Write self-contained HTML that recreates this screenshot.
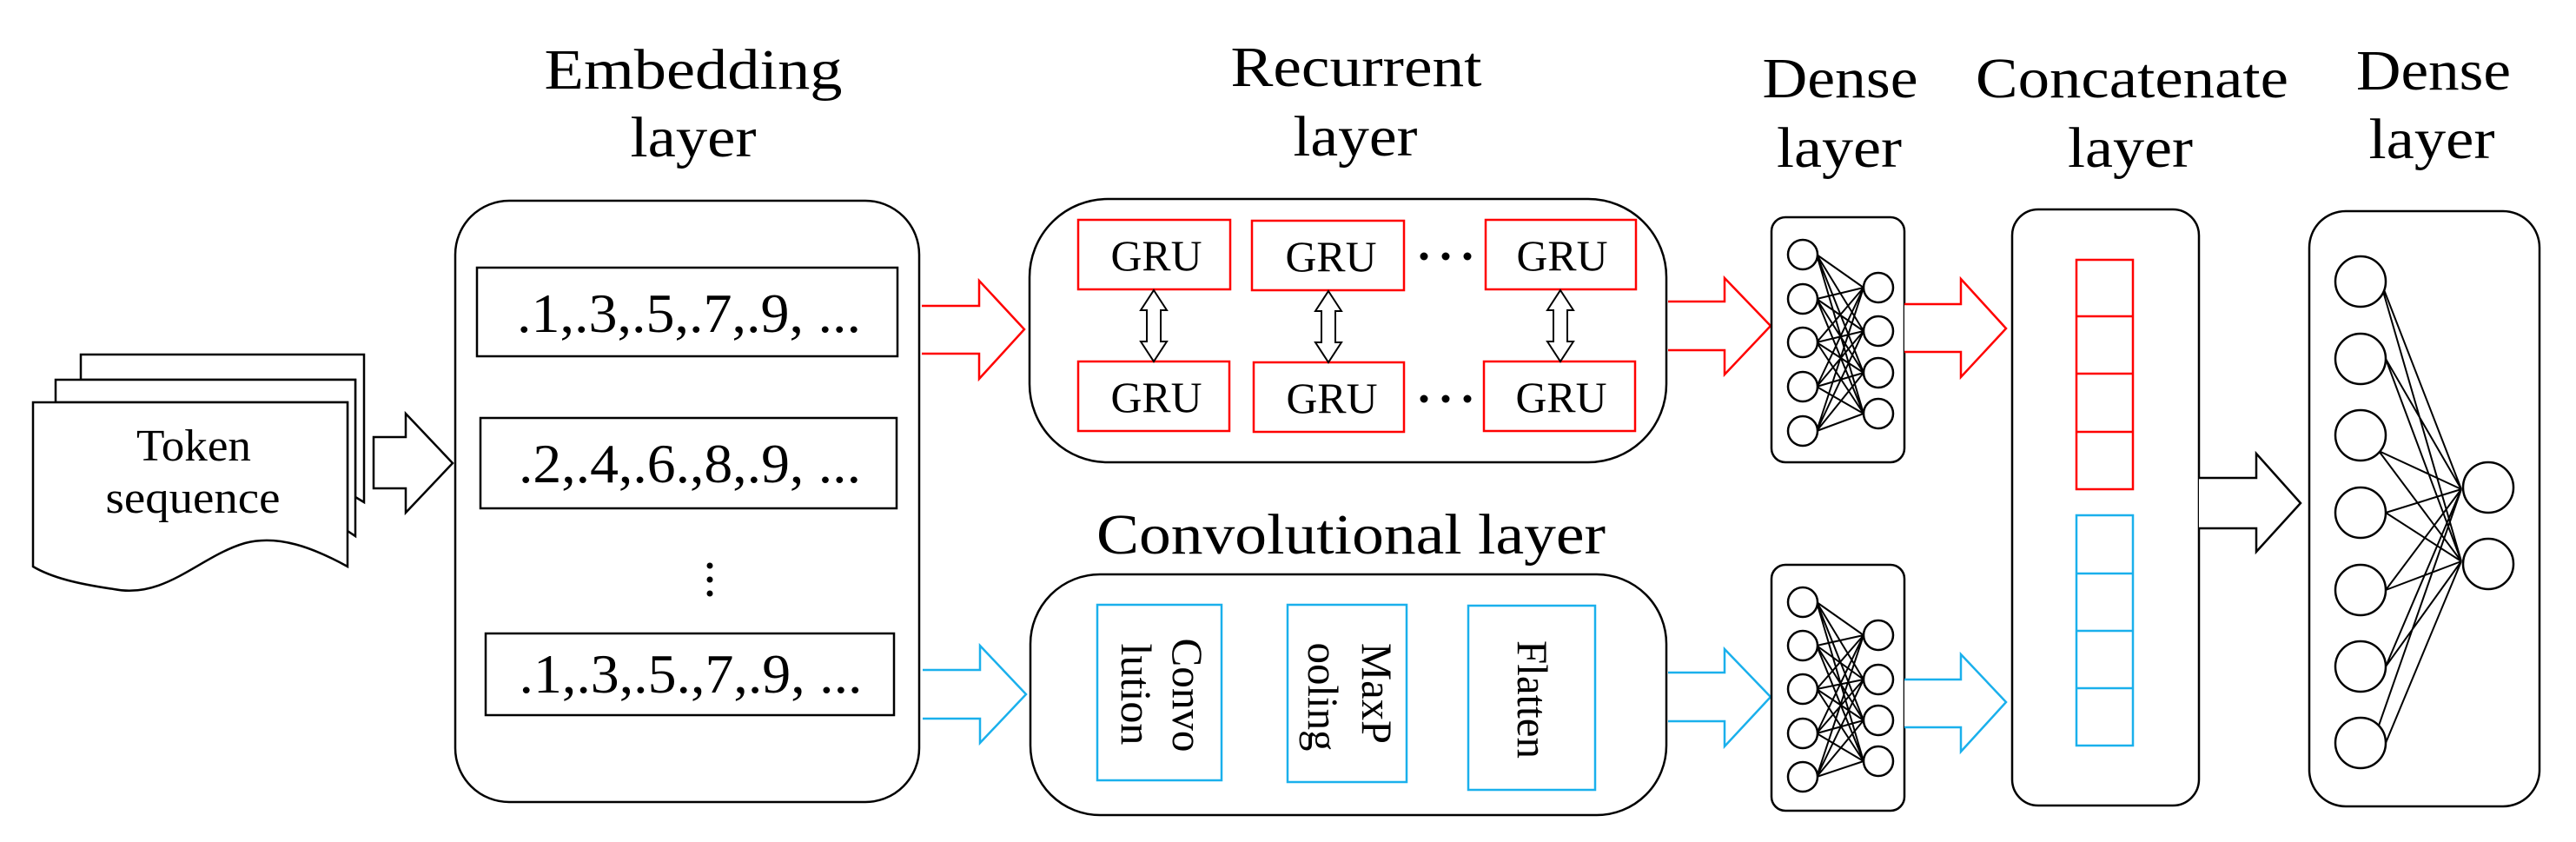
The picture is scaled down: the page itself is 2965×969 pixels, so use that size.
<!DOCTYPE html>
<html><head><meta charset="utf-8"><style>
html,body{margin:0;padding:0;background:#fff;}
svg{display:block;}
svg text{font-family:"Liberation Serif","Times New Roman","DejaVu Serif",serif;fill:#000;}
</style></head><body>
<svg width="2965" height="969" viewBox="0 0 2965 969" xmlns="http://www.w3.org/2000/svg" font-family="'Liberation Serif', 'Times New Roman', 'DejaVu Serif', serif">
<g fill="#fff" stroke="#000" stroke-width="2.5">
<path d="M93,408 H419 V578 L409,572 V437 H93 Z"/>
<path d="M64,437 H409 V617 L400,611 V463 H64 Z"/>
<path d="M38,463 H400 V652 C360,630 320,615 282,625 C230,640 190,690 131,678 C90,672 60,665 38,652 Z"/>
</g>
<g font-family="'Liberation Serif', 'Times New Roman', 'DejaVu Serif', serif">
<text x="223" y="530" font-size="52" text-anchor="middle" textLength="132" lengthAdjust="spacingAndGlyphs">Token</text>
<text x="222" y="590" font-size="52" text-anchor="middle" textLength="201" lengthAdjust="spacingAndGlyphs">sequence</text>
</g>
<path d="M430,503 H467 V476 L521,533 L467,590 V562 H430 Z" fill="#fff" stroke="#000" stroke-width="2.5"/>

<g font-size="66" text-anchor="middle" font-family="'Liberation Serif', 'Times New Roman', 'DejaVu Serif', serif">
<text x="798" y="102" textLength="343" lengthAdjust="spacingAndGlyphs">Embedding</text>
<text x="798" y="180" textLength="145" lengthAdjust="spacingAndGlyphs">layer</text>
<text x="1561" y="99" textLength="289" lengthAdjust="spacingAndGlyphs">Recurrent</text>
<text x="1560" y="179" textLength="143" lengthAdjust="spacingAndGlyphs">layer</text>
<text x="2118" y="112" textLength="179" lengthAdjust="spacingAndGlyphs">Dense</text>
<text x="2117" y="192" textLength="144" lengthAdjust="spacingAndGlyphs">layer</text>
<text x="2454" y="112" textLength="360" lengthAdjust="spacingAndGlyphs">Concatenate</text>
<text x="2452" y="192" textLength="144" lengthAdjust="spacingAndGlyphs">layer</text>
<text x="2801" y="103" textLength="178" lengthAdjust="spacingAndGlyphs">Dense</text>
<text x="2799" y="182" textLength="145" lengthAdjust="spacingAndGlyphs">layer</text>
<text x="1555" y="637" textLength="586" lengthAdjust="spacingAndGlyphs">Convolutional layer</text>
</g>

<rect x="524" y="231" width="534" height="692" rx="62" fill="#fff" stroke="#000" stroke-width="2.5"/>
<g fill="none" stroke="#000" stroke-width="2.5">
<rect x="549" y="308" width="484" height="102"/>
<rect x="553" y="481" width="479" height="104"/>
<rect x="559" y="729" width="470" height="94"/>
</g>
<g font-size="64" text-anchor="middle" font-family="'Liberation Serif', 'Times New Roman', 'DejaVu Serif', serif">
<text x="793" y="382" textLength="396" lengthAdjust="spacingAndGlyphs">.1,.3,.5,.7,.9, ...</text>
<text x="794" y="555" textLength="394" lengthAdjust="spacingAndGlyphs">.2,.4,.6.,8,.9, ...</text>
<text x="795" y="797" textLength="395" lengthAdjust="spacingAndGlyphs">.1,.3,.5.,7,.9, ...</text>
</g>
<g fill="#000"><circle cx="817" cy="651" r="3.5"/><circle cx="817" cy="667" r="3.5"/><circle cx="817" cy="683" r="3.5"/></g>

<path d="M1061,352 H1127 V323 L1179,379 L1127,436 V407 H1061" fill="#fff" stroke="#f00" stroke-width="2.5"/>
<path d="M1062,771 H1128 V743 L1181,799 L1128,855 V827 H1062" fill="#fff" stroke="#1ab0ec" stroke-width="2.5"/>

<rect x="1185" y="229" width="733" height="303" rx="90" fill="#fff" stroke="#000" stroke-width="2.5"/>
<g fill="none" stroke="#f00" stroke-width="2.5">
<rect x="1241" y="253" width="175" height="80"/>
<rect x="1441" y="254" width="175" height="80"/>
<rect x="1710" y="253" width="173" height="80"/>
<rect x="1241" y="416" width="174" height="80"/>
<rect x="1443" y="417" width="173" height="80"/>
<rect x="1708" y="416" width="174" height="80"/>
</g>
<g font-size="50" text-anchor="middle" font-family="'Liberation Serif', 'Times New Roman', 'DejaVu Serif', serif">
<text x="1331" y="311" textLength="105" lengthAdjust="spacingAndGlyphs">GRU</text>
<text x="1532" y="312" textLength="105" lengthAdjust="spacingAndGlyphs">GRU</text>
<text x="1798" y="311" textLength="105" lengthAdjust="spacingAndGlyphs">GRU</text>
<text x="1331" y="474" textLength="105" lengthAdjust="spacingAndGlyphs">GRU</text>
<text x="1533" y="475" textLength="105" lengthAdjust="spacingAndGlyphs">GRU</text>
<text x="1797" y="474" textLength="105" lengthAdjust="spacingAndGlyphs">GRU</text>
</g>
<g fill="#000">
<circle cx="1639" cy="295" r="4.5"/><circle cx="1664" cy="295" r="4.5"/><circle cx="1689" cy="295" r="4.5"/>
<circle cx="1639" cy="459" r="4.5"/><circle cx="1664" cy="459" r="4.5"/><circle cx="1689" cy="459" r="4.5"/>
</g>
<g fill="#fff" stroke="#000" stroke-width="2">
<path d="M1328,334 L1343,357 H1336 V393 H1343 L1328,416 L1313,393 H1320 V357 H1313 Z"/>
<path d="M1529,335 L1544,358 H1537 V394 H1544 L1529,417 L1514,394 H1521 V358 H1514 Z"/>
<path d="M1796,334 L1811,357 H1804 V393 H1811 L1796,416 L1781,393 H1788 V357 H1781 Z"/>
</g>

<rect x="1186" y="661" width="732" height="277" rx="80" fill="#fff" stroke="#000" stroke-width="2.5"/>
<g fill="none" stroke="#1ab0ec" stroke-width="2.5">
<rect x="1263" y="696" width="143" height="202"/>
<rect x="1482" y="696" width="137" height="204"/>
<rect x="1690" y="697" width="146" height="212"/>
</g>
<g font-size="50" text-anchor="middle" font-family="'Liberation Serif', 'Times New Roman', 'DejaVu Serif', serif">
<text transform="translate(1350,800) rotate(90)" textLength="131" lengthAdjust="spacingAndGlyphs">Convo</text>
<text transform="translate(1291,799) rotate(90)" textLength="117" lengthAdjust="spacingAndGlyphs">lution</text>
<text transform="translate(1568,798) rotate(90)" textLength="116" lengthAdjust="spacingAndGlyphs">MaxP</text>
<text transform="translate(1506,802) rotate(90)" textLength="125" lengthAdjust="spacingAndGlyphs">ooling</text>
<text transform="translate(1747,805) rotate(90)" textLength="136" lengthAdjust="spacingAndGlyphs">Flatten</text>
</g>

<path d="M1920,347 H1985 V320 L2038,375 L1985,431 V403 H1920" fill="#fff" stroke="#f00" stroke-width="2.5"/>
<path d="M1920,774 H1985 V747 L2038,802 L1985,859 V830 H1920" fill="#fff" stroke="#1ab0ec" stroke-width="2.5"/>

<rect x="2039" y="250" width="153" height="282" rx="16" fill="#fff" stroke="#000" stroke-width="2.5"/>
<g stroke="#000" stroke-width="2">
<path d="M2091,293L2145,331M2091,293L2145,381M2091,293L2145,429M2091,293L2145,476
M2091,344L2145,331M2091,344L2145,381M2091,344L2145,429M2091,344L2145,476
M2091,394L2145,331M2091,394L2145,381M2091,394L2145,429M2091,394L2145,476
M2091,445L2145,331M2091,445L2145,381M2091,445L2145,429M2091,445L2145,476
M2091,496L2145,331M2091,496L2145,381M2091,496L2145,429M2091,496L2145,476"/>
</g>
<g fill="#fff" stroke="#000" stroke-width="2.5">
<circle cx="2075" cy="293" r="17"/><circle cx="2075" cy="344" r="17"/><circle cx="2075" cy="394" r="17"/><circle cx="2075" cy="445" r="17"/><circle cx="2075" cy="496" r="17"/>
<circle cx="2162" cy="331" r="17"/><circle cx="2162" cy="381" r="17"/><circle cx="2162" cy="429" r="17"/><circle cx="2162" cy="476" r="17"/>
</g>

<rect x="2039" y="650" width="153" height="283" rx="16" fill="#fff" stroke="#000" stroke-width="2.5"/>
<g stroke="#000" stroke-width="2">
<path d="M2091,693L2145,731M2091,693L2145,782M2091,693L2145,829M2091,693L2145,876
M2091,743L2145,731M2091,743L2145,782M2091,743L2145,829M2091,743L2145,876
M2091,793L2145,731M2091,793L2145,782M2091,793L2145,829M2091,793L2145,876
M2091,844L2145,731M2091,844L2145,782M2091,844L2145,829M2091,844L2145,876
M2091,894L2145,731M2091,894L2145,782M2091,894L2145,829M2091,894L2145,876"/>
</g>
<g fill="#fff" stroke="#000" stroke-width="2.5">
<circle cx="2075" cy="693" r="17"/><circle cx="2075" cy="743" r="17"/><circle cx="2075" cy="793" r="17"/><circle cx="2075" cy="844" r="17"/><circle cx="2075" cy="894" r="17"/>
<circle cx="2162" cy="731" r="17"/><circle cx="2162" cy="782" r="17"/><circle cx="2162" cy="829" r="17"/><circle cx="2162" cy="876" r="17"/>
</g>

<path d="M2192,350 H2257 V321 L2309,378 L2257,434 V405 H2192" fill="#fff" stroke="#f00" stroke-width="2.5"/>
<path d="M2192,782 H2257 V753 L2309,808 L2257,865 V837 H2192" fill="#fff" stroke="#1ab0ec" stroke-width="2.5"/>

<rect x="2316" y="241" width="215" height="686" rx="30" fill="#fff" stroke="#000" stroke-width="2.5"/>
<g fill="none" stroke="#f00" stroke-width="2.5">
<rect x="2390" y="299" width="65" height="264"/>
<path d="M2390,364H2455M2390,430H2455M2390,497H2455"/>
</g>
<g fill="none" stroke="#1ab0ec" stroke-width="2.5">
<rect x="2390" y="593" width="65" height="265"/>
<path d="M2390,660H2455M2390,726H2455M2390,792H2455"/>
</g>

<path d="M2531,550 H2597 V522 L2648,579 L2597,635 V608 H2531" fill="#fff" stroke="#000" stroke-width="2.5"/>

<rect x="2658" y="243" width="265" height="685" rx="42" fill="#fff" stroke="#000" stroke-width="2.5"/>
<g stroke="#000" stroke-width="2">
<path d="M2738,318L2833,563M2738,318L2833,646
M2746,413L2833,563M2746,413L2833,646
M2738,519L2833,563M2738,519L2833,646
M2746,590L2833,563M2746,590L2833,646
M2746,679L2833,563M2746,679L2833,646
M2746,767L2833,563M2746,767L2833,646
M2738,835L2833,563M2746,855L2833,646"/>
</g>
<g fill="#fff" stroke="#000" stroke-width="2.5">
<circle cx="2717" cy="324" r="29"/><circle cx="2717" cy="413" r="29"/><circle cx="2717" cy="501" r="29"/><circle cx="2717" cy="590" r="29"/><circle cx="2717" cy="679" r="29"/><circle cx="2717" cy="767" r="29"/><circle cx="2717" cy="855" r="29"/>
<circle cx="2864" cy="561" r="29"/><circle cx="2864" cy="649" r="29"/>
</g>
</svg>
</body></html>
